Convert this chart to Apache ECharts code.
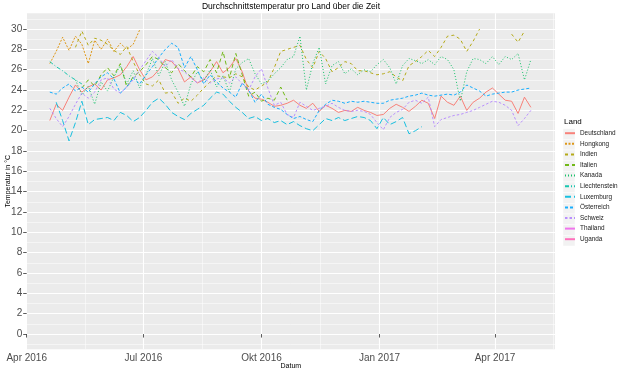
<!DOCTYPE html>
<html><head><meta charset="utf-8">
<script src="https://cdn.jsdelivr.net/npm/echarts@6/dist/echarts.min.js"></script>
<style>html,body{margin:0;padding:0;background:#fff}#c{width:620px;height:372px}</style>
</head><body><div id="c"></div>
<script>
// x = days since 2016-04-01, samples every 5 days starting at day 18
const dayStart = 18, dayStep = 5;
const xTickDays = [0, 91, 183, 275, 365];
const xTickLabels = ['Apr 2016', 'Jul 2016', 'Okt 2016', 'Jan 2017', 'Apr 2017'];
const xMinorDays = [45.5, 137, 229, 320, 410.5];
const yTicks = [0,2,4,6,8,10,12,14,16,18,20,22,24,26,28,30];
const yMinor = [-1,1,3,5,7,9,11,13,15,17,19,21,23,25,27,29,31];

const countries = ['Deutschland','Hongkong','Indien','Italien','Kanada','Liechtenstein','Luxemburg','Österreich','Schweiz','Thailand','Uganda'];
const startIdx = [0, 0, 4, 5, 4, 0, 1, 0, 0, 0, 0];

const deutschland = [21.0,22.6,22.0,23.3,24.5,23.8,24.3,24.6,24.0,25.0,
 25.2,25.5,26.3,27.3,26.0,25.0,25.3,26.0,27.0,26.8,
 26.1,24.8,25.3,24.7,25.0,25.8,26.8,25.7,26.2,27.1,
 25.8,23.9,23.2,23.1,22.8,22.4,22.5,22.7,23.0,22.5,
 22.2,22.7,21.9,22.5,22.2,21.8,22.0,21.9,22.3,22.0,
 21.8,21.5,21.6,22.2,22.6,22.3,21.9,22.4,23.0,22.7,
 21.2,23.4,22.8,22.5,23.4,22.0,22.8,23.2,23.8,24.2,
 23.6,23.0,22.9,21.7,23.3,22.3];
const hongkong = [26.6,27.8,29.2,27.9,29.3,28.5,26.6,28.9,28.0,29.0,27.8,28.6,28.0,28.5,29.9];
const indien = [28.2,29.8,28.4,29.1,28.9,28.5,27.9,27.5,28.3,26.8,
 25.5,24.6,24.4,25.0,23.7,23.8,22.7,23.2,22.9,23.5,
 24.2,24.8,25.4,25.3,25.2,25.6,25.3,24.3,24.0,24.4,
 24.8,26.2,27.8,28.0,28.2,28.4,27.0,26.2,27.8,27.1,
 25.8,26.2,26.8,26.6,25.9,25.9,25.7,25.5,25.6,25.8,
 25.3,24.9,26.4,26.8,27.3,27.9,27.3,28.2,29.3,29.4,
 29.0,27.8,28.8,30.0,null,null,null,null,29.5,28.7,29.8];
const italien = [24.2,25.0,24.4,25.5,26.2,25.4,26.6,24.3,25.3,25.8,
 26.5,27.3,27.0,26.2,25.7,26.6,25.9,25.3,26.3,25.8,
 27.0,25.7,27.8,25.2,27.6,25.5,23.4,23.8,22.9,23.2,
 23.0,24.3,23.0];
const kanada = [25.0,23.5,24.4,22.6,24.8,23.9,25.3,26.4,24.6,25.9,
 24.2,25.5,27.1,25.4,26.8,25.0,23.8,22.4,24.6,25.8,
 24.9,26.0,24.3,25.4,23.8,26.1,26.7,27.1,25.6,24.6,
 24.9,25.6,26.2,27.0,27.3,29.3,24.0,26.6,28.2,24.6,
 26.4,26.8,25.6,26.1,25.5,26.0,25.8,26.5,27.0,26.2,
 24.6,26.4,27.1,26.9,26.6,27.0,26.5,27.3,27.0,26.0,
 22.9,25.8,27.1,27.0,26.6,27.3,26.5,27.3,27.0,27.6,
 25.0,27.0];
const liechtenstein = [26.8,26.3,25.9,25.4,25.0,24.6];
const luxemburg = [22.8,21.0,19.0,20.8,22.9,20.6,21.1,21.2,21.3,21.0,
 21.8,21.5,20.9,21.3,22.0,22.8,23.2,22.6,21.8,21.4,
 21.1,21.7,22.1,22.5,23.2,23.8,23.6,22.9,22.3,21.8,
 21.2,21.4,21.0,21.2,20.8,21.0,20.6,20.9,20.5,20.2,
 20.0,20.6,21.2,21.0,21.3,21.0,21.2,21.4,21.3,21.0,
 20.2,21.3,20.6,20.9,21.3,19.7,20.0,20.4];
const oesterreich = [23.8,23.6,24.2,24.6,23.9,24.3,23.8,24.6,25.3,25.7,
 25.1,23.7,24.3,25.2,24.6,25.5,26.3,27.2,28.0,28.6,
 28.2,26.2,27.3,26.0,24.6,25.5,24.8,24.2,23.8,23.3,
 24.7,24.0,22.8,23.6,22.6,22.3,22.1,21.6,21.2,21.4,
 21.1,20.9,22.0,22.6,23.0,22.9,22.7,22.9,22.8,22.9,
 22.8,22.7,22.7,23.0,23.1,23.2,23.4,23.5,23.7,23.5,
 23.4,23.5,23.6,23.5,23.8,24.5,24.2,23.9,23.4,23.6,
 23.7,23.8,23.8,24.0,24.1,24.2];
const schweiz = [22.2,21.2,20.4,21.4,22.6,23.7,23.2,23.8,25.0,25.2,
 24.1,23.7,24.3,25.0,26.0,26.9,27.8,27.2,26.3,27.0,
 26.1,25.8,25.2,24.7,25.2,24.7,25.1,25.2,24.7,25.3,
 24.6,24.0,25.3,26.1,24.2,22.5,22.8,21.6,21.3,22.8,
 22.4,22.0,22.2,22.4,22.7,22.3,22.0,21.9,22.0,21.9,
 21.6,20.8,20.1,21.3,21.8,22.1,22.8,23.0,22.7,23.3,
 20.4,21.1,21.3,21.5,21.6,21.8,22.0,22.3,22.6,22.9,
 22.8,22.5,22.0,20.5,21.2,22.0];
const thailand = [];
const uganda = [];

const seriesValues = [deutschland, hongkong, indien, italien, kanada, liechtenstein, luxemburg, oesterreich, schweiz, thailand, uganda];
const colors = ['#F8766D','#DB8E00','#AEA200','#64B200','#00BD5C','#00C1A7','#00BADE','#00A6FF','#B385FF','#EF67EB','#FF63B6'];
const dashes = ['solid',[2,1.5],[3,3],[4,3],[1,2],[4,2,1,2],[6,3],[3,2],[2.5,2],'solid','solid'];
const widths = [1,1,1,1,1,1,1,1,1,2.5,2.5];

const FONT = 'Liberation Sans';
const chart = echarts.init(document.getElementById('c'), null, {renderer: 'canvas'});

const series = countries.map((name, k) => ({
  name, type: 'line', xAxisIndex: 0, yAxisIndex: 0,
  data: seriesValues[k].map((v, i) => [dayStart + dayStep * (startIdx[k] + i), v]),
  symbol: 'none', showSymbol: false, connectNulls: false, animation: false,
  lineStyle: {color: colors[k], width: widths[k], type: dashes[k], opacity: 0.9},
  itemStyle: {color: colors[k]}
}));

const keyRects = countries.map((c, k) => ({
  type: 'rect', z: -1, silent: true,
  shape: {x: 563, y: 128.7 + 10.67 * k, width: 12, height: 10.67},
  style: {fill: '#F2F2F2', stroke: '#fff', lineWidth: 0.5}
}));

const xMin = 0, xMax = 411.8, yMin = -1.5, yMax = 31.55;

chart.setOption({
  animation: false,
  backgroundColor: '#fff',
  title: [
    {text: 'Durchschnittstemperatur pro Land über die Zeit', left: 291, textAlign: 'center', top: 2.5, padding: 0,
     textStyle: {fontSize: 8.5, fontWeight: 'normal', color: '#000', fontFamily: FONT}},
    {text: 'Land', left: 564, top: 118, padding: 0, textStyle: {fontSize: 8, fontWeight: 'normal', color: '#000', fontFamily: FONT}}
  ],
  grid: {left: 26.7, right: 65, top: 13.3, bottom: 22.7, show: true, backgroundColor: '#EBEBEB', borderWidth: 0,
         containLabel: false, outerBoundsMode: 'none'},
  legend: {
    orient: 'vertical', left: 564, top: 130, padding: 0, itemWidth: 10, itemHeight: 8, itemGap: 4.2,
    data: countries,
    itemStyle: {opacity: 0},
    textStyle: {fontSize: 6.4, color: '#1a1a1a', fontFamily: FONT},
    selectedMode: false
  },
  graphic: keyRects,
  xAxis: [
    {type: 'value', min: xMin, max: xMax, position: 'bottom',
     name: 'Datum', nameLocation: 'middle', nameGap: 13, nameMoveOverlap: false,
     nameTextStyle: {fontSize: 7, color: '#000', fontFamily: FONT},
     axisLine: {show: false},
     axisTick: {show: true, length: 3.5, customValues: xTickDays, lineStyle: {color: '#333', width: 0.8}},
     axisLabel: {show: true, customValues: xTickDays, fontSize: 10, color: '#4D4D4D', fontFamily: FONT, margin: 4,
       formatter: v => xTickLabels[xTickDays.indexOf(v)] || ''},
     splitLine: {show: true, lineStyle: {color: '#FFFFFF', width: 1.1}}},
    {type: 'value', min: xMin, max: xMax, position: 'bottom', show: true,
     axisLine: {show: false}, axisLabel: {show: false},
     axisTick: {show: false, customValues: xMinorDays},
     splitLine: {show: true, lineStyle: {color: '#FFFFFF', width: 0.5}}}
  ],
  yAxis: [
    {type: 'value', min: yMin, max: yMax, position: 'left',
     name: 'Temperatur in °C', nameLocation: 'middle', nameGap: 15, nameMoveOverlap: false,
     nameTextStyle: {fontSize: 7, color: '#000', fontFamily: FONT},
     axisLine: {show: false},
     axisTick: {show: true, length: 3.5, customValues: yTicks, lineStyle: {color: '#333', width: 0.8}},
     axisLabel: {show: true, customValues: yTicks, fontSize: 10, color: '#4D4D4D', fontFamily: FONT, margin: 4.5},
     splitLine: {show: true, lineStyle: {color: '#FFFFFF', width: 1.1}}},
    {type: 'value', min: yMin, max: yMax, position: 'left', show: true,
     axisLine: {show: false}, axisLabel: {show: false},
     axisTick: {show: false, customValues: yMinor},
     splitLine: {show: true, lineStyle: {color: '#FFFFFF', width: 0.5}}}
  ],
  series
});
</script></body></html>
